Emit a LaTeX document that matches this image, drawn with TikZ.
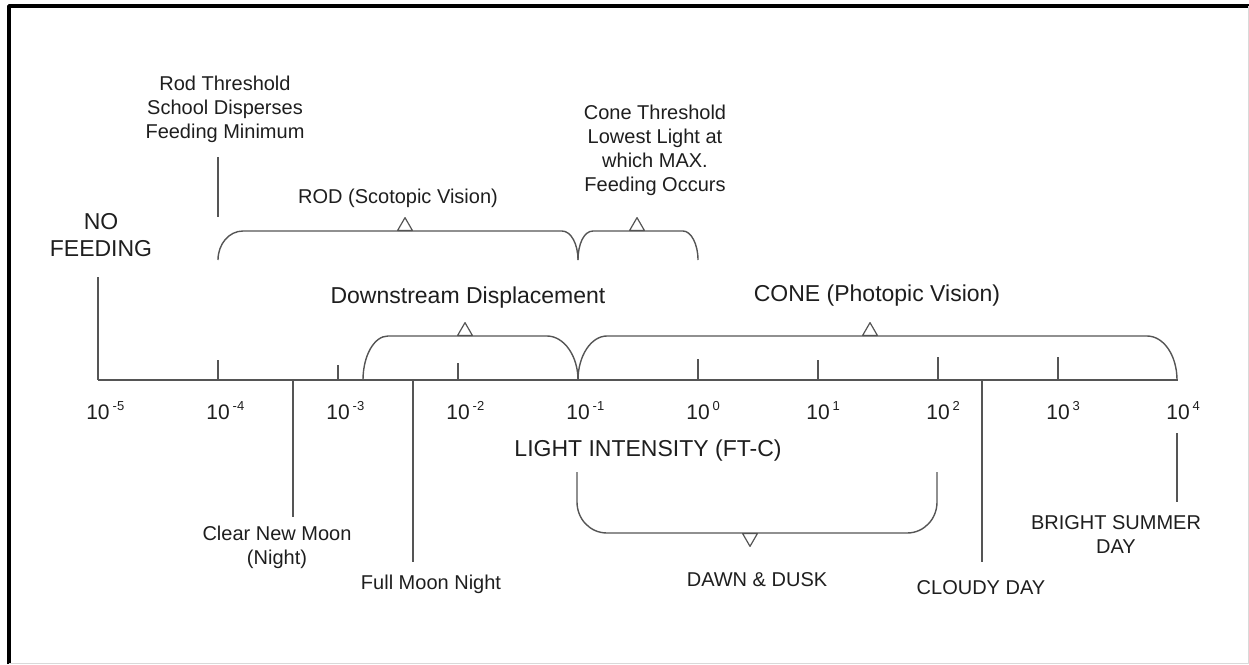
\documentclass[tikz,border=0pt]{standalone}
\usepackage{fontspec}
\setmainfont{Liberation Sans}
\usetikzlibrary{shapes.geometric}

\definecolor{linea}{HTML}{555555}
\definecolor{texto}{HTML}{1E1E1E}
% exponente de las potencias de diez
\newcommand{\pot}[1]{\rlap{\hspace{3pt}\raisebox{9pt}{\fontsize{13}{13}\selectfont #1}}}

\begin{document}
\begin{tikzpicture}[x=1pt, y=-1pt, line join=round]
		% Estilos del diagrama
		\tikzset{
			eje/.style={
					draw=linea, line width=1.6pt
				},
			llave/.style={
					draw=linea, line width=1.4pt
				},
			marca/.style={
					regular polygon, regular polygon sides=3, draw=linea,
					line width=1.2pt, fill=white, minimum size=17pt, inner sep=0pt
				},
			marca abajo/.style={
					marca, shape border rotate=180
				},
			etiqueta/.style={
					text=texto, align=center, inner sep=0pt,
					font=\fontsize{20}{24}\selectfont
				},
			titulo/.style={
					etiqueta, font=\fontsize{23}{27}\selectfont
				},
			valor/.style={
					text=texto, inner sep=0pt, text height=15pt, text depth=0pt,
					font=\fontsize{21}{24}\selectfont
				}
		}

		\useasboundingbox (0,0) rectangle (1249,664);
		% Marco
		\draw[line width=3.5pt] (9,664) -- (9,6) -- (1249,6);
		\draw[black!15, line width=1pt] (1248,6) -- (1248,663) -- (9,663);

		% Eje logaritmico y sus marcas
		\foreach \e in {-5,...,4} {
				\coordinate (t\e) at ({98+120*(\e+5)},380);
				\node[valor] (v\e) at ({98+120*(\e+5)},412) {10\pot{\e}};
			}
		\draw[eje] (t-5) -- (t4);
		\foreach \e/\h in {-4/20, -3/15, -2/17, 0/21, 1/20, 2/23, 3/23} {
				\draw[eje] (t\e) -- ++(0,-\h);
			}
		\node[titulo] (eje) at (648,451) {LIGHT INTENSITY (FT-C)};

		% Lineas de referencia
		\coordinate (nofeed top) at (98,277);
		\coordinate (rodthr top) at (218,157);
		\coordinate (rodthr bot) at (218,217);
		\coordinate (newmoon top) at (293,380);
		\coordinate (newmoon bot) at (293,517);
		\coordinate (fullmoon top) at (413,380);
		\coordinate (fullmoon bot) at (413,562);
		\coordinate (cloudy top) at (982,380);
		\coordinate (cloudy bot) at (982,562);
		\coordinate (summer top) at (1177,433);
		\coordinate (summer bot) at (1177,502);
		\draw[eje] (nofeed top) -- (t-5);
		\draw[eje] (rodthr top) -- (rodthr bot);
		\foreach \n in {newmoon, fullmoon, cloudy, summer} {
				\draw[eje] (\n\space top) -- (\n\space bot);
			}

		% Llaves: bastones, umbral de conos, desplazamiento, conos, amanecer
		\draw[llave] (218,260) .. controls (218,244) and (229,231) .. (243,231) -- (562,231)
			.. controls (571,231) and (578,244) .. (578,260);
		\draw[llave] (578,260) .. controls (578,244) and (584,231) .. (593,231) -- (683,231)
			.. controls (691,231) and (698,244) .. (698,260);
		\draw[llave] (363,380) .. controls (363,356) and (374,336) .. (388,336) -- (547,336)
			.. controls (564,336) and (578,356) .. (578,380);
		\draw[llave] (578,380) .. controls (578,356) and (591,336) .. (607,336) -- (1147,336)
			.. controls (1164,336) and (1177,356) .. (1177,380);
		\draw[llave] (577,472) -- (577,502) .. controls (577,519) and (590,533) .. (607,533)
			-- (907,533) .. controls (924,533) and (937,519) .. (937,502) -- (937,472);

		\node[marca, anchor=side 2] (rodmark) at (405,231) {};
		\node[marca, anchor=side 2] (conethrmark) at (637,231) {};
		\node[marca, anchor=side 2] (downmark) at (465,336) {};
		\node[marca, anchor=side 2] (conemark) at (870,336) {};
		\node[marca abajo, anchor=side 2] (dawnmark) at (750,533) {};

		% Textos
		\node[titulo] (nofeed) at (101,235) {NO\\FEEDING};
		\node[etiqueta] (rodthr) at (225,109) {Rod Threshold\\School Disperses\\Feeding Minimum};
		\node[etiqueta] (conethr) at (655,150) {Cone Threshold\\Lowest Light at\\which MAX.\\Feeding Occurs};
		\node[etiqueta] (rod) at (398,198) {ROD (Scotopic Vision)};
		\node[titulo] (down) at (468,298) {Downstream Displacement};
		\node[titulo] (cone) at (877,296) {CONE (Photopic Vision)};
		\node[etiqueta] (dawn) at (757,580) {DAWN \& DUSK};
		\node[etiqueta] (newmoon) at (277,547) {Clear New Moon\\(Night)};
		\node[etiqueta] (fullmoon) at (431,584) {Full Moon Night};
		\node[etiqueta] (cloudy) at (981,588) {CLOUDY DAY};
		\node[etiqueta] (summer) at (1116,535) {BRIGHT SUMMER\\DAY};
	\end{tikzpicture}
\end{document}
